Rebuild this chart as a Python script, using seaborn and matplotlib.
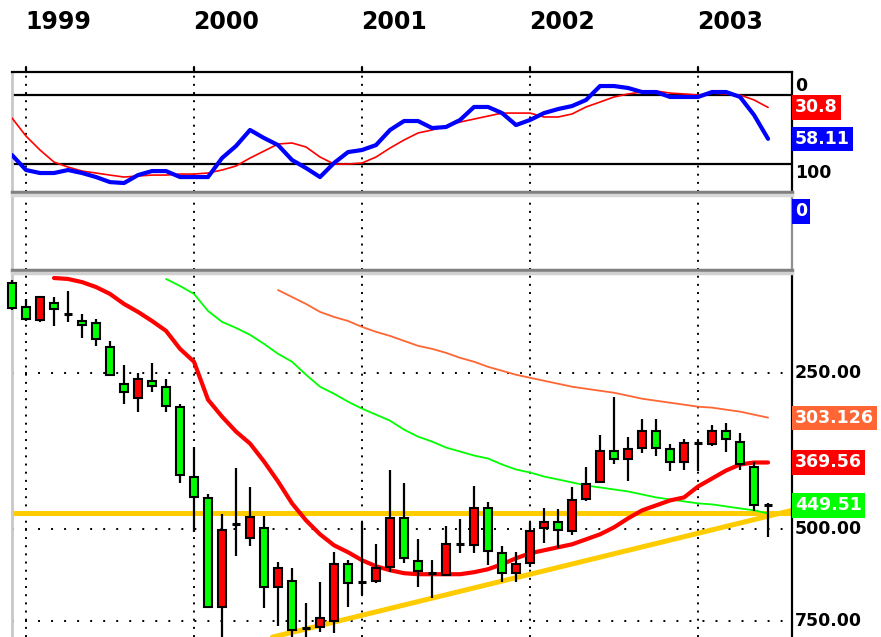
import numpy as np
import matplotlib
matplotlib.use("Agg")
import matplotlib.pyplot as plt
import seaborn as sns
from matplotlib.transforms import blended_transform_factory, offset_copy
from matplotlib.ticker import NullLocator

# ---------------- data (monthly bars, Dec 1998 .. Jun 2003) ----------------
months = list(range(55))
year_labels = ["1999", "2000", "2001", "2002", "2003"]
year_pos = [1, 13, 25, 37, 49]

open_ = [168.1, 186.9, 197.9, 183.6, 192.7, 198.8, 200.5, 222.9, 262.4, 279.2,
         259.0, 265.9, 290.5, 397.3, 435.8, 704.9, 488.8, 519.9, 497.5, 645.4,
         628.5, 773.3, 769.9, 749.9, 583.1, 631.3, 628.5, 590.9, 476.0, 575.5,
         606.7, 612.1, 533.9, 536.3, 455.5, 555.5, 606.7, 580.5, 497.5, 484.5,
         504.2, 437.7, 406.1, 352.7, 365.3, 348.0, 322.9, 349.6, 370.2, 340.4,
         341.9, 322.9, 338.9, 380.1, 449.5]
high = [189.0, 198.8, 199.6, 203.2, 199.6, 214.2, 221.9, 253.0, 286.6, 296.9,
        271.9, 296.9, 407.9, 506.4, 708.0, 830.0, 562.9, 538.6, 708.0, 766.5,
        815.0, 815.0, 787.1, 790.6, 704.9, 668.6, 634.1, 604.0, 580.5, 645.4,
        677.5, 614.0, 555.5, 555.5, 585.7, 631.3, 631.3, 590.9, 531.5, 543.4,
        513.1, 441.6, 407.0, 373.5, 404.3, 355.8, 360.5, 386.9, 383.5, 385.2,
        345.0, 354.2, 383.5, 461.5, 517.7]
low = [166.0, 180.4, 178.0, 178.8, 174.1, 192.7, 197.0, 217.1, 241.3, 250.0,
       239.2, 256.7, 286.6, 346.5, 428.2, 467.7, 381.8, 415.2, 471.9, 578.0,
       593.5, 692.6, 631.3, 553.0, 572.9, 484.5, 533.9, 383.5, 407.9, 522.3,
       572.9, 493.1, 478.1, 413.4, 443.6, 538.6, 553.0, 484.5, 455.5, 457.5,
       415.2, 378.5, 328.6, 277.9, 331.6, 306.2, 306.2, 341.9, 334.5, 336.0,
       314.5, 311.7, 325.7, 371.8, 445.5]
close = [187.7, 197.0, 178.8, 188.5, 192.7, 202.3, 215.2, 252.2, 271.9, 256.7,
         264.8, 289.2, 393.8, 433.9, 704.9, 501.9, 488.8, 473.9, 645.4, 593.5,
         780.2, 773.3, 740.0, 583.1, 634.1, 631.3, 593.5, 476.0, 567.9, 601.4,
         606.7, 533.9, 533.9, 455.5, 550.6, 606.7, 583.1, 504.2, 484.5, 501.9,
         439.7, 409.7, 352.7, 365.3, 349.6, 322.9, 348.0, 370.2, 340.4, 340.4,
         322.9, 334.5, 375.1, 449.5, 449.5]

ma_red_start = 3
ma_red = [164.4, 165.1, 167.4, 171.1, 176.4, 184.4, 191.0, 198.8, 207.7, 224.9,
          238.1, 281.6, 303.5, 324.3, 341.9, 370.2, 404.3, 445.5, 480.3, 510.8,
          536.3, 553.0, 572.9, 588.3, 598.8, 606.7, 609.4, 609.4, 609.4, 609.4,
          604.0, 596.1, 583.1, 567.9, 555.5, 548.2, 541.0, 533.9, 522.3, 510.8,
          495.3, 476.0, 459.5, 449.5, 439.7, 433.9, 413.4, 399.1, 385.2, 375.1,
          371.8, 371.8]
ma_green_start = 11
ma_green = [165.1, 170.3, 176.4, 190.2, 199.6, 205.0, 211.4, 220.0, 229.9, 238.1,
            252.2, 265.9, 274.3, 284.1, 293.0, 300.9, 309.0, 321.5, 331.6, 338.9,
            348.0, 354.2, 360.5, 365.3, 375.1, 383.5, 388.6, 395.6, 400.8, 406.1,
            411.6, 415.2, 418.9, 422.6, 428.2, 433.9, 437.7, 441.6, 445.5, 447.5,
            451.5, 455.5, 459.5, 465.7]
ma_orange_start = 19
ma_orange = [173.4, 178.8, 184.4, 191.0, 195.3, 198.8, 204.1, 208.6, 212.4, 217.1,
             221.9, 224.9, 228.9, 234.0, 238.1, 243.5, 247.8, 252.2, 255.6, 259.0,
             262.4, 265.9, 268.3, 270.7, 273.1, 276.7, 280.4, 282.9, 285.4, 287.9,
             290.5, 291.7, 294.3, 296.9, 300.9, 304.9]

support_level = 465.7
trend_months = [18.6, 55.7]
trend_prices = [805.0, 459.5]

price_ticks = [250, 500, 750]
price_tick_labels = ["250.00", "500.00", "750.00"]
value_labels = {"orange": "303.126", "red": "369.56", "green": "449.51"}

stoch_k = [72.2, 85.2, 87.8, 87.8, 85.2, 87.8, 91.3, 95.7, 96.5, 89.6,
           86.1, 86.1, 91.3, 91.3, 91.3, 74.8, 64.3, 50.4, 57.4, 63.5,
           76.5, 83.5, 91.3, 79.1, 69.6, 67.8, 63.5, 50.4, 42.6, 42.6,
           48.7, 47.8, 41.7, 30.4, 30.4, 35.7, 46.1, 41.7, 35.7, 32.2,
           29.6, 24.3, 12.2, 12.2, 13.9, 17.4, 17.4, 21.7, 21.7, 21.7,
           17.4, 17.4, 21.7, 37.4, 58.1]
stoch_d = [40.0, 55.7, 67.8, 78.3, 82.6, 86.1, 87.8, 89.6, 91.3, 90.4,
           89.6, 89.6, 88.7, 88.7, 87.8, 85.2, 81.7, 74.8, 68.7, 62.6,
           61.7, 65.2, 73.9, 80.0, 80.0, 79.1, 73.9, 66.1, 59.1, 53.0,
           50.4, 47.0, 43.5, 40.9, 38.3, 35.7, 35.7, 35.7, 39.1, 39.1,
           36.5, 30.4, 26.1, 21.7, 19.1, 17.4, 16.5, 18.3, 19.1, 20.0,
           18.3, 19.1, 20.0, 24.3, 30.8]
osc_levels = [20, 80]
osc_level_labels = ["0", "100"]
stoch_k_label = "58.11"
stoch_d_label = "30.8"
volume_label = "0"

# ---------------- style ----------------
sns.set_style("white")
plt.rcParams['font.family'] = ['DejaVu Sans']

GREEN = '#00ff00'
RED = '#ff0000'
ORANGE = '#ff6633'
GOLD = '#ffcc00'
BLUE = '#0000ff'

W, H = 881, 637
fig = plt.figure(figsize=(W / 100, H / 100), dpi=100)


def axrect(x0, y0, x1, y1):
    return [x0 / W, 1 - y1 / H, (x1 - x0) / W, (y1 - y0) / H]


ax_osc = fig.add_axes(axrect(12, 72, 792, 192))
ax_vol = fig.add_axes(axrect(12, 195, 792, 270))
ax_main = fig.add_axes(axrect(12, 273, 792, 637))

XL = (0, 55.71)
for ax in (ax_osc, ax_vol, ax_main):
    ax.set_xlim(*XL)
    ax.set_facecolor('white')
    ax.xaxis.set_major_locator(NullLocator())
    ax.yaxis.set_major_locator(NullLocator())
    ax.yaxis.set_minor_locator(NullLocator())
    ax.xaxis.set_minor_locator(NullLocator())
    for x in year_pos:
        ax.axvline(x, color='black', lw=1.4, linestyle=(0, (1, 3.2)), zorder=1)

# ---------------- oscillator panel ----------------
ax_osc.set_ylim(104.3, 0)
for lv in osc_levels:
    ax_osc.axhline(lv, color='black', lw=1.6, zorder=2)
sns.lineplot(x=months, y=stoch_d, ax=ax_osc, color=RED, lw=1.2, zorder=3)
sns.lineplot(x=months, y=stoch_k, ax=ax_osc, color=BLUE, lw=3.0, zorder=4)
ax_osc.spines['top'].set_color('black'); ax_osc.spines['top'].set_linewidth(1.6)
ax_osc.spines['right'].set_color('black'); ax_osc.spines['right'].set_linewidth(1.6)
ax_osc.spines['left'].set_color('#c8c8c8'); ax_osc.spines['left'].set_linewidth(2)
ax_osc.spines['bottom'].set_color('#808080'); ax_osc.spines['bottom'].set_linewidth(2.5)
ax_osc.set_xlabel(''); ax_osc.set_ylabel('')

lab_font = dict(family=['DejaVu Sans'], fontsize=12.5, fontweight='bold')
tr_osc = blended_transform_factory(ax_osc.transAxes, ax_osc.transData)
tr_osc_off = offset_copy(tr_osc, fig=fig, x=3, y=0, units='dots')
ax_osc.text(1.0, osc_levels[0], osc_level_labels[0], transform=tr_osc_off,
            ha='left', va='bottom', color='black', clip_on=False, **lab_font)
ax_osc.text(1.0, osc_levels[1], osc_level_labels[1], transform=tr_osc_off,
            ha='left', va='top', color='black', clip_on=False, **lab_font)
ax_osc.text(1.0, stoch_d[-1], stoch_d_label, transform=tr_osc_off, ha='left', va='center',
            color='white', clip_on=False,
            bbox=dict(boxstyle='square,pad=0.18', fc=RED, ec='none'), **lab_font)
ax_osc.text(1.0, stoch_k[-1], stoch_k_label, transform=tr_osc_off, ha='left', va='center',
            color='white', clip_on=False,
            bbox=dict(boxstyle='square,pad=0.18', fc=BLUE, ec='none'), **lab_font)

# year labels above the oscillator panel
tr_year = blended_transform_factory(ax_osc.transData, ax_osc.transAxes)
for x, t in zip(year_pos, year_labels):
    ax_osc.text(x - 0.08, 1.42, t, transform=tr_year, ha='left', va='center',
                fontsize=17, fontweight='bold', family=['Liberation Sans Narrow', 'DejaVu Sans'],
                color='black', clip_on=False)
for x in year_pos:
    ax_osc.plot([x, x], [1.0, 1.04], transform=tr_year, color='black', lw=1.6, clip_on=False)

# ---------------- empty (volume) panel ----------------
ax_vol.set_ylim(0, 1)
ax_vol.spines['top'].set_color('#d8d8d8'); ax_vol.spines['top'].set_linewidth(2.5)
ax_vol.spines['bottom'].set_color('#808080'); ax_vol.spines['bottom'].set_linewidth(2.5)
ax_vol.spines['left'].set_color('#c8c8c8'); ax_vol.spines['left'].set_linewidth(2)
ax_vol.spines['right'].set_color('#909090'); ax_vol.spines['right'].set_linewidth(1.6)
ax_vol.text(1.0, 0.78, volume_label, transform=offset_copy(ax_vol.transAxes, fig=fig, x=3, y=0, units='dots'),
            ha='left', va='center', color='white', clip_on=False,
            bbox=dict(boxstyle='square,pad=0.18', fc=BLUE, ec='none'), **lab_font)

# ---------------- main price panel ----------------
ax_main.set_yscale('log')
ax_main.yaxis.set_major_locator(NullLocator())
ax_main.yaxis.set_minor_locator(NullLocator())
ax_main.set_ylim(804.5, 160.8)

for p in price_ticks:
    ax_main.axhline(p, color='black', lw=1.4, linestyle=(0, (1, 5.7)), zorder=1)

ax_main.axhline(support_level, color=GOLD, lw=3.6, zorder=2)
sns.lineplot(x=trend_months, y=trend_prices, ax=ax_main, color=GOLD, lw=3.6, zorder=2)
sns.lineplot(x=months[ma_orange_start:], y=ma_orange, ax=ax_main, color=ORANGE, lw=1.3, zorder=2)
sns.lineplot(x=months[ma_green_start:], y=ma_green, ax=ax_main, color=GREEN, lw=1.3, zorder=2)
sns.lineplot(x=months[ma_red_start:], y=ma_red, ax=ax_main, color=RED, lw=3.0, zorder=3)

xa = np.array(months, dtype=float)
o = np.array(open_); c = np.array(close)
up = c > o
dn = c < o
fl = c == o
ax_main.vlines(xa, low, high, color='black', lw=1.6, zorder=4, clip_on=False)
ax_main.bar(xa[up], (c - o)[up], bottom=o[up], width=0.6, color=GREEN,
            edgecolor='black', linewidth=1.5, zorder=5, clip_on=False)
ax_main.bar(xa[dn], (o - c)[dn], bottom=c[dn], width=0.6, color=RED,
            edgecolor='black', linewidth=1.5, zorder=5, clip_on=False)
ax_main.hlines(c[fl], xa[fl] - 0.3, xa[fl] + 0.3, color='black', lw=2.2, zorder=5)

ax_main.set_xlabel(''); ax_main.set_ylabel('')
ax_main.spines['top'].set_color('#d0d0d0'); ax_main.spines['top'].set_linewidth(2.5)
ax_main.spines['left'].set_color('#c8c8c8'); ax_main.spines['left'].set_linewidth(2)
ax_main.spines['right'].set_color('black'); ax_main.spines['right'].set_linewidth(1.6)
ax_main.spines['bottom'].set_visible(False)

tr_main = blended_transform_factory(ax_main.transAxes, ax_main.transData)
tr_main_off = offset_copy(tr_main, fig=fig, x=3, y=0, units='dots')
for p, t in zip(price_ticks, price_tick_labels):
    ax_main.text(1.0, p, t, transform=tr_main_off, ha='left', va='center',
                 color='black', clip_on=False, zorder=6, **lab_font)
ax_main.text(1.0, ma_orange[-1], value_labels["orange"], transform=tr_main_off, ha='left',
             va='center', color='white', clip_on=False, zorder=7,
             bbox=dict(boxstyle='square,pad=0.18', fc=ORANGE, ec='none'), **lab_font)
ax_main.text(1.0, ma_red[-1], value_labels["red"], transform=tr_main_off, ha='left',
             va='center', color='white', clip_on=False, zorder=7,
             bbox=dict(boxstyle='square,pad=0.18', fc=RED, ec='none'), **lab_font)
ax_main.text(1.0, close[-1], value_labels["green"], transform=tr_main_off, ha='left',
             va='center', color='white', clip_on=False, zorder=7,
             bbox=dict(boxstyle='square,pad=0.18', fc=GREEN, ec='none'), **lab_font)

fig.savefig("out.png", dpi=100)
